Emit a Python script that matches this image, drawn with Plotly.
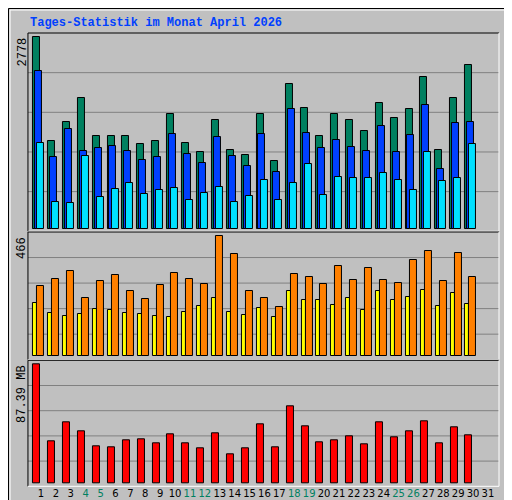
import plotly.graph_objects as go

days = list(range(1, 32))
anfragen = [2778,1268,1544,1892,1341,1341,1341,1225,1268,1660,1239,1108,1573,1137,1065,1660,978,2096,1747,1341,1660,1573,1413,1820,1602,1733,2197,1137,1892,2372]
dateien = [2284,1036,1442,1123,1166,1195,1123,992,1036,1370,1079,949,1326,1050,905,1370,818,1733,1384,1166,1283,1181,1123,1486,1108,1355,1791,862,1529,1544]
seiten = [1239,382,368,1050,455,571,658,499,557,586,411,513,600,382,469,702,411,658,934,484,745,731,731,803,702,557,1108,687,731,1225]
besuche = [206,167,155,163,182,179,167,163,155,151,171,194,225,171,159,186,151,252,217,217,198,225,179,252,217,229,256,194,245,202]
rechner = [272,299,330,225,291,314,252,221,276,322,299,280,466,396,252,225,190,318,307,280,349,295,345,295,283,373,408,291,400,307]
volumen = [87.39,31.0,44.9,38.3,27.3,26.6,31.7,32.5,29.5,36.1,29.5,25.9,36.9,21.5,25.9,43.5,26.6,56.6,42.0,30.3,31.7,34.7,28.8,44.9,33.9,38.3,45.6,29.5,41.3,35.4]
weekend = {4,5,11,12,18,19,25,26}

GREEN, BLUE, CYAN, YEL, ORA, RED = "#008060", "#0040ff", "#00e0ff", "#ffff00", "#ff8000", "#ff0000"
d = days[:30]
fig = go.Figure()
def bar(vals, off, w, col, ax):
    fig.add_trace(go.Bar(x=[x + off for x in d], y=vals, width=w, marker=dict(color=col, line=dict(color="black", width=1)),
                         xaxis="x", yaxis=ax, showlegend=False, hoverinfo="skip"))
bar(anfragen, -0.30, 0.47, GREEN, "y")
bar(dateien, -0.17, 0.47, BLUE, "y")
bar(seiten, -0.03, 0.47, CYAN, "y")
bar(besuche, -0.38, 0.27, YEL, "y2")
bar(rechner, -0.01, 0.47, ORA, "y2")
bar(volumen, -0.28, 0.47, RED, "y3")

doms = {"y": [0.5534, 0.95], "y2": [0.2966, 0.552], "y3": [0.0434, 0.2954]}
ticktext = [f"<span style='color:{GREEN}'>{x}</span>" if x in weekend else str(x) for x in days]
fig.update_layout(
    width=512, height=500, margin=dict(l=0, r=0, t=0, b=0),
    paper_bgcolor="#c0c0c0", plot_bgcolor="#c0c0c0", barmode="overlay", bargap=0,
    font=dict(family="Liberation Mono", color="black", size=12),
    xaxis=dict(domain=[0.039, 0.959], range=[0.128, 31.74], tickvals=days, ticktext=ticktext, tickangle=0,
               showgrid=False, zeroline=False, ticks="", ticklen=0, tickfont=dict(family="DejaVu Sans", size=10), anchor="y3"),
    yaxis=dict(domain=doms["y"], range=[-38.7, 2841], showgrid=False, zeroline=False, showticklabels=False),
    yaxis2=dict(domain=doms["y2"], range=[-12.9, 482.8], showgrid=False, zeroline=False, showticklabels=False),
    yaxis3=dict(domain=doms["y3"], range=[-1.95, 90.32], showgrid=False, zeroline=False, showticklabels=False),
)
shapes = []
for ax, (a, b) in doms.items():
    yr = f"{ax} domain"
    for k in (0.2, 0.4, 0.6, 0.8):
        shapes.append(dict(type="line", xref="x domain", yref=yr, x0=0, x1=1, y0=k, y1=k, layer="below", line=dict(color="#808080", width=1)))
    shapes.append(dict(type="line", xref="x domain", yref=yr, x0=0, x1=1, y0=1, y1=1, line=dict(color="black", width=1)))
    shapes.append(dict(type="line", xref="x domain", yref=yr, x0=0, x1=0, y0=0, y1=1, line=dict(color="black", width=1)))
    shapes.append(dict(type="line", xref="x domain", yref=yr, x0=0, x1=1, y0=0, y1=0, line=dict(color="white", width=1)))
    shapes.append(dict(type="line", xref="x domain", yref=yr, x0=1, x1=1, y0=0, y1=1, line=dict(color="white", width=1)))
shapes.append(dict(type="rect", xref="paper", yref="paper", x0=0.001, x1=0.999, y0=0.001, y1=0.999, line=dict(color="black", width=1)))
shapes.append(dict(type="line", xref="paper", yref="paper", x0=0.004, x1=0.004, y0=0.004, y1=0.996, line=dict(color="white", width=1)))
shapes.append(dict(type="line", xref="paper", yref="paper", x0=0.004, x1=0.996, y0=0.996, y1=0.996, line=dict(color="white", width=1)))
fig.update_layout(shapes=shapes)

def sep():
    return "<span style='color:#404040'> / </span>"
legend = (f"<span style='color:{RED}'>Volumen</span>" + sep() + f"<span style='color:{BLUE}'>Vol. In</span>" + sep() +
          f"<span style='color:{GREEN}'>Vol. Out</span>" + sep() + f"<span style='color:{ORA}'>Rechner</span>" + sep() +
          f"<span style='color:{YEL}'>Besuche</span>" + sep() + f"<span style='color:{CYAN}'>Seiten</span>" + sep() +
          f"<span style='color:{BLUE}'>Dateien</span>" + sep() + f"<span style='color:{GREEN}'>Anfragen</span>")
ann = [
    dict(text="<b>Tages-Statistik im Monat April 2026</b>", xref="paper", yref="paper", x=20/512, y=1-15/500,
         xanchor="left", yanchor="middle", showarrow=False, font=dict(color="#0040ff", size=12, family="Liberation Mono")),
    dict(text=legend, xref="paper", yref="paper", x=501/512, y=1-263/500, textangle=-90, xanchor="center", yanchor="middle",
         showarrow=False, font=dict(size=9, family="Liberation Mono")),
    dict(text="2778", xref="paper", yref="paper", x=14/512, y=1-28/500, textangle=-90, xanchor="center", yanchor="top", showarrow=False),
    dict(text="466", xref="paper", yref="paper", x=14/512, y=1-227/500, textangle=-90, xanchor="center", yanchor="top", showarrow=False),
    dict(text="87.39 MB", xref="paper", yref="paper", x=14/512, y=1-355/500, textangle=-90, xanchor="center", yanchor="top", showarrow=False),
]
fig.update_layout(annotations=ann)
fig.write_html("out.html")
